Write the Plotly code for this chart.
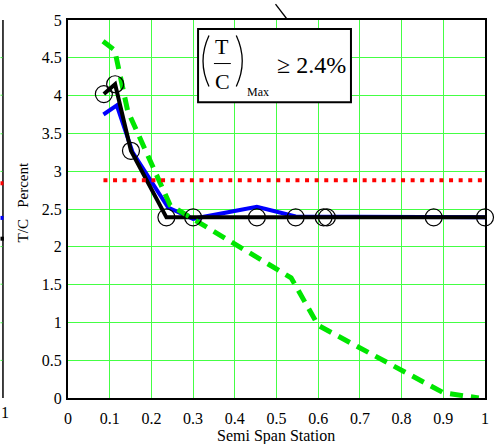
import plotly.graph_objects as go

# ---------------- data ----------------
station_black = [0.086, 0.113, 0.151, 0.236, 0.300, 0.453, 0.546, 0.613, 0.621, 0.877, 1.0]
tc_black = [4.02, 4.15, 3.27, 2.39, 2.39, 2.39, 2.39, 2.39, 2.39, 2.39, 2.39]

station_blue = [0.085, 0.117, 0.155, 0.220, 0.240, 0.300, 0.453, 0.546, 1.0]
tc_blue = [3.75, 3.87, 3.25, 2.68, 2.52, 2.37, 2.53, 2.40, 2.39]

station_green = [0.084, 0.112, 0.143, 0.245, 0.535, 0.600, 0.900, 0.985]
tc_green = [4.72, 4.60, 3.80, 2.55, 1.59, 0.96, 0.07, 0.0]

station_red = [0.085, 1.0]
tc_red = [2.88, 2.88]

FONT = "Times New Roman, Liberation Serif, DejaVu Serif, serif"
W, H = 501, 444
L, R, T, B = 68, 13, 16, 46
PW, PH = W - L - R, H - T - B


def px(x):
    return (x - L) / PW


def py(y):
    return (H - B - y) / PH


fig = go.Figure()
fig.add_trace(go.Scatter(x=station_blue, y=tc_blue, mode="lines",
                         line=dict(color="#0000ff", width=4), showlegend=False))
fig.add_trace(go.Scatter(x=station_black, y=tc_black, mode="lines",
                         line=dict(color="#000000", width=4), showlegend=False))
fig.add_trace(go.Scatter(x=station_green, y=tc_green, mode="lines",
                         line=dict(color="#00e600", width=5, dash="13px,8px"),
                         showlegend=False))
fig.add_trace(go.Scatter(x=station_red, y=tc_red, mode="lines",
                         line=dict(color="#ff0000", width=4, dash="4px,5.6px"),
                         showlegend=False))
fig.add_trace(go.Scatter(x=station_black, y=tc_black, mode="markers",
                         marker=dict(symbol="circle-open", size=17, color="black",
                                     line=dict(width=1.2, color="black")),
                         showlegend=False, cliponaxis=False))

axis_common = dict(showgrid=True, gridcolor="#44ff44", gridwidth=1, zeroline=False,
                   showline=True, mirror=True, linecolor="black", linewidth=2,
                   ticks="", tickfont=dict(family=FONT, size=16, color="black"))

fig.update_xaxes(range=[0, 1], dtick=0.1, tick0=0, ticklabelstandoff=5, **axis_common)
fig.update_yaxes(range=[0, 5], dtick=0.5, tick0=0, ticklabelstandoff=1, **axis_common)

shapes = [
    # annotation box
    dict(type="rect", xref="paper", yref="paper", x0=px(199), x1=px(353), y0=py(99), y1=py(25),
         line=dict(color="black", width=2), fillcolor="white", layer="above"),
    # parentheses
    dict(type="path", xref="paper", yref="paper",
         path=f"M {px(210)},{py(31.7)} Q {px(198)},{py(57.5)} {px(210)},{py(83.3)}",
         line=dict(color="black", width=1.3)),
    dict(type="path", xref="paper", yref="paper",
         path=f"M {px(237.5)},{py(31.7)} Q {px(249.5)},{py(57.5)} {px(237.5)},{py(83.3)}",
         line=dict(color="black", width=1.3)),
    # fraction bar
    dict(type="line", xref="paper", yref="paper", x0=px(215), x1=px(232), y0=py(60), y1=py(60),
         line=dict(color="black", width=1)),
    # pointer line from neighbouring chart
    dict(type="line", xref="paper", yref="paper", x0=px(277), x1=px(288.5), y0=py(0), y1=py(15),
         line=dict(color="black", width=1.3)),
    # fragment of neighbouring chart at left edge
    dict(type="line", xref="paper", yref="paper", x0=px(2.5), x1=px(2.5), y0=py(398), y1=py(16),
         line=dict(color="black", width=1.5)),
    dict(type="line", xref="paper", yref="paper", x0=px(0), x1=px(3), y0=py(181), y1=py(181),
         line=dict(color="#ff0000", width=4)),
    dict(type="line", xref="paper", yref="paper", x0=px(0), x1=px(3), y0=py(216), y1=py(216),
         line=dict(color="#0000ff", width=4)),
    dict(type="line", xref="paper", yref="paper", x0=px(0), x1=px(3.5), y0=py(237), y1=py(237),
         line=dict(color="black", width=4)),
]
for gy in [54, 92, 131, 169, 245, 283, 322, 360]:
    shapes.append(dict(type="line", xref="paper", yref="paper", x0=px(0), x1=px(2),
                       y0=py(gy), y1=py(gy), line=dict(color="#44ff44", width=1)))

annotations = [
    dict(text="T", x=px(223.5), y=py(43), xref="paper", yref="paper", showarrow=False,
         font=dict(family=FONT, size=22, color="black"), xanchor="center", yanchor="middle"),
    dict(text="C", x=px(223.5), y=py(78), xref="paper", yref="paper", showarrow=False,
         font=dict(family=FONT, size=22, color="black"), xanchor="center", yanchor="middle"),
    dict(text="Max", x=px(259.5), y=py(89), xref="paper", yref="paper", showarrow=False,
         font=dict(family=FONT, size=12, color="black"), xanchor="center", yanchor="middle"),
    dict(text="\u2265 2.4%", x=px(313), y=py(61), xref="paper", yref="paper", showarrow=False,
         font=dict(family=FONT, size=24, color="black"), xanchor="center", yanchor="middle"),
    dict(text="Semi Span Station", x=px(277), y=py(436), xref="paper", yref="paper",
         showarrow=False, font=dict(family=FONT, size=16, color="black"),
         xanchor="center", yanchor="middle"),
    dict(text="T/C\u00a0\u00a0\u00a0Percent", x=px(23), y=py(200), xref="paper", yref="paper",
         showarrow=False, textangle=-90, font=dict(family=FONT, size=15, color="black"),
         xanchor="center", yanchor="middle"),
    dict(text="1", x=px(5), y=py(413), xref="paper", yref="paper", showarrow=False,
         font=dict(family=FONT, size=16, color="black"), xanchor="center", yanchor="middle"),
]

fig.update_layout(width=W, height=H, autosize=False,
                  margin=dict(l=L, r=R, t=T, b=B, pad=0),
                  paper_bgcolor="white", plot_bgcolor="white",
                  font=dict(family=FONT, color="black"),
                  shapes=shapes, annotations=annotations, showlegend=False)

fig.write_html("out.html")
